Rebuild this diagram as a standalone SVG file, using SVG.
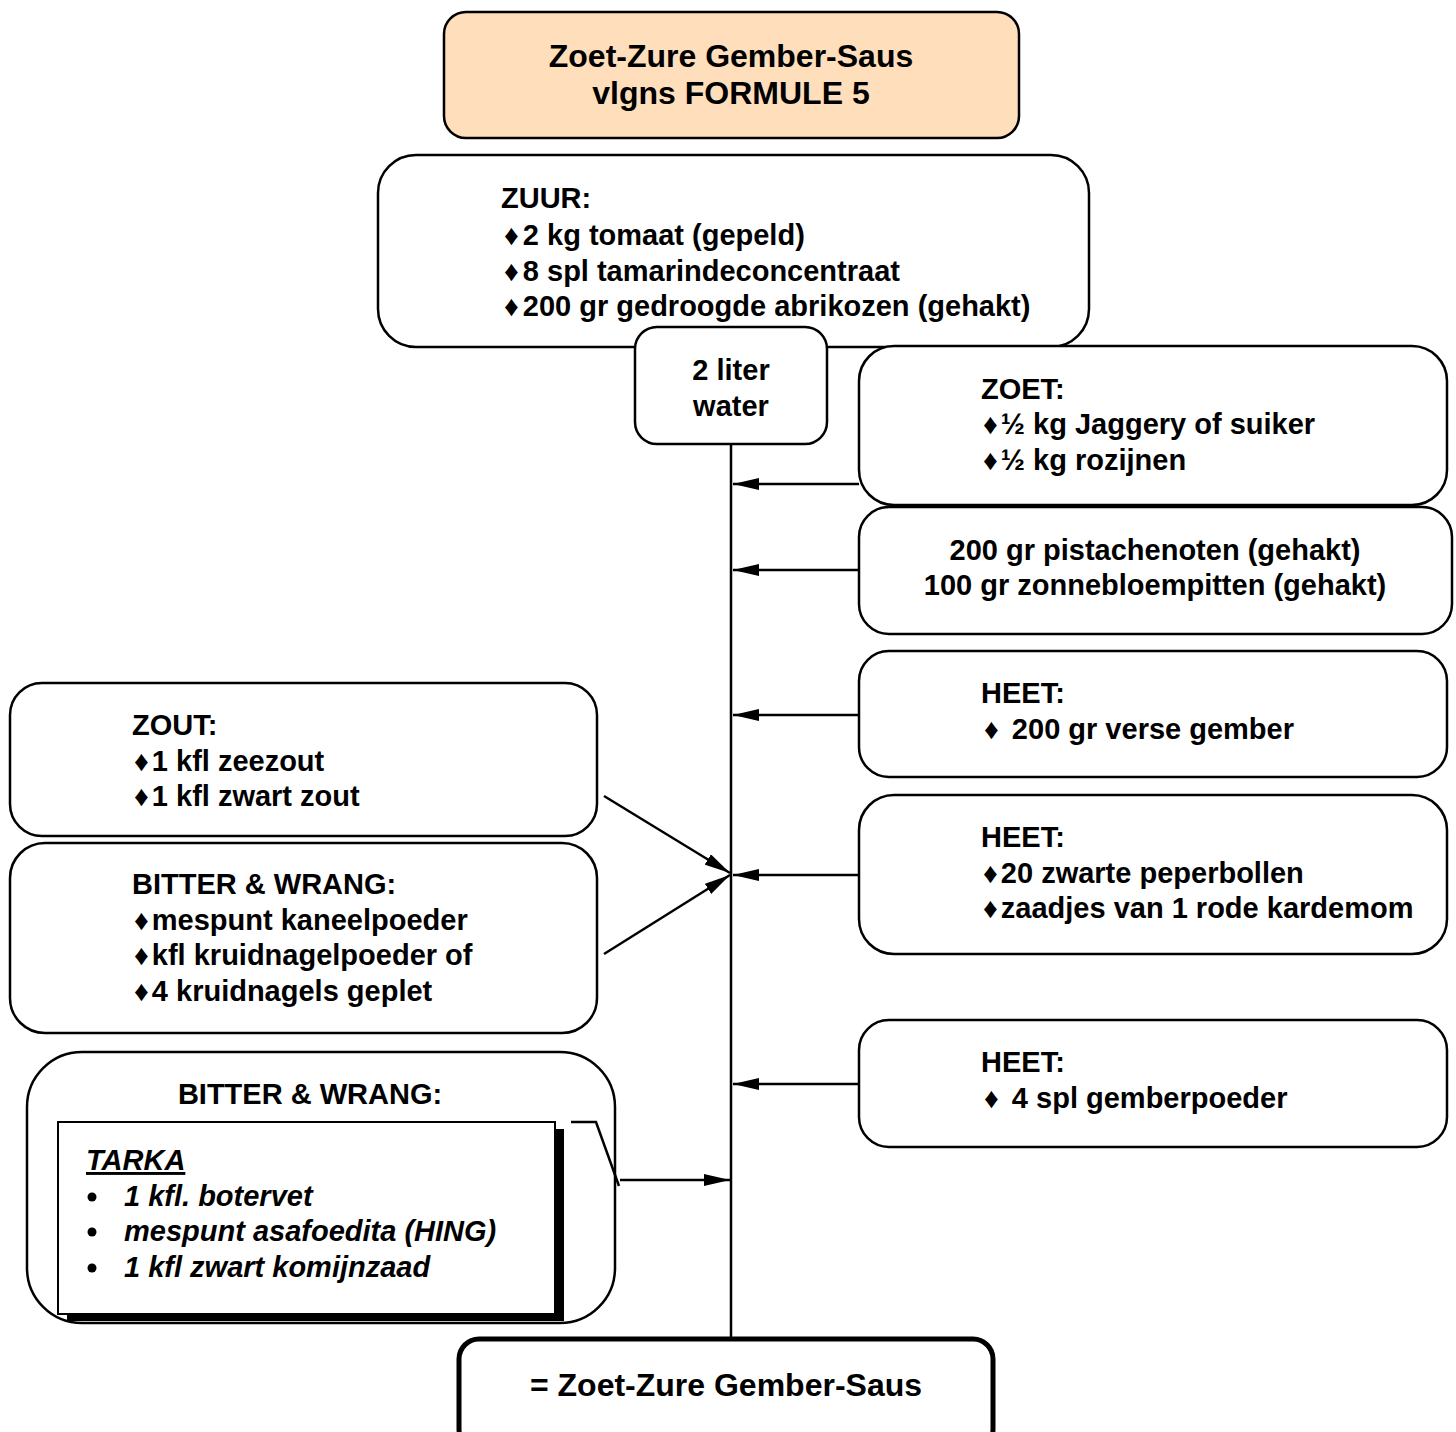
<svg xmlns="http://www.w3.org/2000/svg" width="1456" height="1432" viewBox="0 0 1456 1432">
<style>
.box{fill:#fff;stroke:#000;stroke-width:2.5}
.t{font-family:"Liberation Sans",Arial,sans-serif;font-weight:bold;font-size:29px;fill:#000}
.c{text-anchor:middle}
.ttl{font-size:32px}
.it{font-style:italic}
.ln{stroke:#000;stroke-width:2.5;fill:none}
</style>
<defs>
<marker id="ah" viewBox="0 0 26 12" refX="26" refY="6" markerWidth="26" markerHeight="12" markerUnits="userSpaceOnUse" orient="auto">
<path d="M0,0 L26,6 L0,12 Z" fill="#000"/>
</marker>
</defs>
<rect width="1456" height="1432" fill="#fff"/>

<g id="title">
<rect x="444" y="12" width="575" height="126" rx="22" fill="#FFDEBB" stroke="#000" stroke-width="2.5"/>
<text class="t ttl c" x="731" y="67">Zoet-Zure Gember-Saus</text>
<text class="t ttl c" x="731" y="104">vlgns FORMULE 5</text>
</g>

<g id="zuur">
<rect class="box" x="378" y="155" width="711" height="192" rx="38"/>
<text class="t" x="501" y="208">ZUUR:</text>
<text class="t" x="504" y="245">♦<tspan dx="4">2 kg tomaat (gepeld)</tspan></text>
<text class="t" x="504" y="281">♦<tspan dx="4">8 spl tamarindeconcentraat</tspan></text>
<text class="t" x="504" y="316">♦<tspan dx="4">200 gr gedroogde abrikozen (gehakt)</tspan></text>
</g>

<g id="water">
<rect class="box" x="635" y="327" width="192" height="117" rx="22"/>
<text class="t c" x="731" y="380">2 liter</text>
<text class="t c" x="731" y="416">water</text>
</g>

<g id="zoet">
<rect class="box" x="859" y="346" width="588" height="159" rx="35"/>
<text class="t" x="981" y="399">ZOET:</text>
<text class="t" x="983" y="434">♦<tspan dx="3">½ kg Jaggery of suiker</tspan></text>
<text class="t" x="983" y="470">♦<tspan dx="3">½ kg rozijnen</tspan></text>
</g>

<g id="noten">
<rect class="box" x="859" y="507" width="593" height="127" rx="30"/>
<text class="t c" x="1155" y="560">200 gr pistachenoten (gehakt)</text>
<text class="t c" x="1155" y="595">100 gr zonnebloempitten (gehakt)</text>
</g>

<g id="heet1">
<rect class="box" x="859" y="651" width="588" height="126" rx="30"/>
<text class="t" x="981" y="703">HEET:</text>
<text class="t" x="984" y="739">♦<tspan dx="5"> 200 gr verse gember</tspan></text>
</g>

<g id="heet2">
<rect class="box" x="859" y="795" width="588" height="159" rx="35"/>
<text class="t" x="981" y="847">HEET:</text>
<text class="t" x="983" y="883">♦<tspan dx="3">20 zwarte peperbollen</tspan></text>
<text class="t" x="983" y="918">♦<tspan dx="3">zaadjes van 1 rode kardemom</tspan></text>
</g>

<g id="heet3">
<rect class="box" x="859" y="1020" width="588" height="127" rx="30"/>
<text class="t" x="981" y="1072">HEET:</text>
<text class="t" x="984" y="1108">♦<tspan dx="5"> 4 spl gemberpoeder</tspan></text>
</g>

<g id="zout">
<rect class="box" x="10" y="683" width="587" height="153" rx="32"/>
<text class="t" x="132" y="735">ZOUT:</text>
<text class="t" x="134" y="771">♦<tspan dx="3">1 kfl zeezout</tspan></text>
<text class="t" x="134" y="806">♦<tspan dx="3">1 kfl zwart zout</tspan></text>
</g>

<g id="bitter1">
<rect class="box" x="10" y="843" width="587" height="190" rx="35"/>
<text class="t" x="132" y="894">BITTER &amp; WRANG:</text>
<text class="t" x="134" y="930">♦<tspan dx="3">mespunt kaneelpoeder</tspan></text>
<text class="t" x="134" y="965">♦<tspan dx="3">kfl kruidnagelpoeder of</tspan></text>
<text class="t" x="134" y="1001">♦<tspan dx="3">4 kruidnagels geplet</tspan></text>
</g>

<g id="bitter2">
<rect class="box" x="27" y="1052" width="588" height="271" rx="55"/>
<text class="t c" x="310" y="1104">BITTER &amp; WRANG:</text>
</g>

<g id="tarka">
<rect x="67" y="1129" width="497" height="192" fill="#000"/>
<rect x="58" y="1122" width="497" height="192" fill="#fff" stroke="#000" stroke-width="2"/>
<text class="t it" x="86" y="1170" font-size="23" text-decoration="underline">TARKA</text>
<circle cx="92" cy="1197" r="4.5" fill="#000"/>
<circle cx="92" cy="1232" r="4.5" fill="#000"/>
<circle cx="92" cy="1268" r="4.5" fill="#000"/>
<text class="t it" x="124" y="1206">1 kfl. botervet</text>
<text class="t it" x="124" y="1241">mespunt asafoedita (HING)</text>
<text class="t it" x="124" y="1277">1 kfl zwart komijnzaad</text>
</g>

<g id="result">
<rect x="459" y="1339" width="534" height="110" rx="20" fill="#fff" stroke="#000" stroke-width="5"/>
<text class="t ttl c" x="726" y="1396">= Zoet-Zure Gember-Saus</text>
</g>

<g id="connectors">
<line class="ln" x1="731" y1="445" x2="731" y2="1337"/>
<line class="ln" x1="859" y1="484" x2="733" y2="484" marker-end="url(#ah)"/>
<line class="ln" x1="859" y1="570" x2="733" y2="570" marker-end="url(#ah)"/>
<line class="ln" x1="859" y1="715" x2="733" y2="715" marker-end="url(#ah)"/>
<line class="ln" x1="859" y1="875" x2="733" y2="875" marker-end="url(#ah)"/>
<line class="ln" x1="859" y1="1084" x2="733" y2="1084" marker-end="url(#ah)"/>
<line class="ln" x1="604" y1="796" x2="730" y2="873" marker-end="url(#ah)"/>
<line class="ln" x1="604" y1="954" x2="730" y2="875" marker-end="url(#ah)"/>
<polyline class="ln" points="571,1122 596,1122 619,1186"/>
<line class="ln" x1="620" y1="1180" x2="730" y2="1180" marker-end="url(#ah)"/>
</g>
</svg>
